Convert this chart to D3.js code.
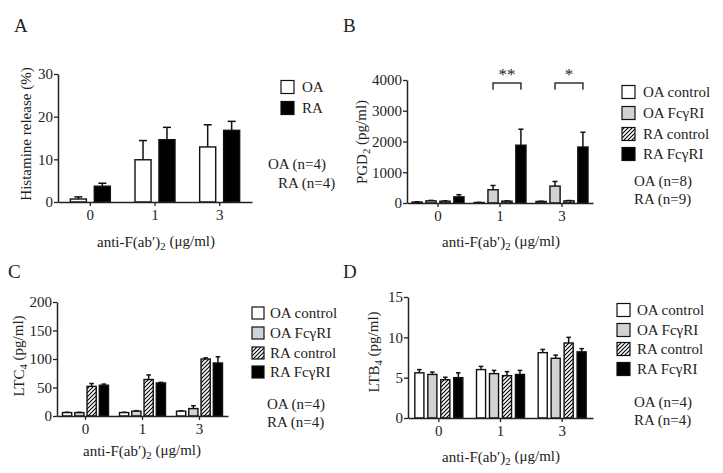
<!DOCTYPE html>
<html><head><meta charset="utf-8">
<script src="https://cdn.jsdelivr.net/npm/d3@7"></script>
<style>
body{margin:0;background:#fff}
text{font-family:"Liberation Serif","Times New Roman",serif;fill:#222}
</style>
</head><body>
<svg id="c" width="723" height="473"></svg>
<script>
// ---------- data ----------
const doses = ["0", "1", "3"];

// Panel A: histamine release (%)
const histNames = ["OA", "RA"];
const histOA = [0.7, 9.9, 12.9];
const histOAerr = [0.5, 4.5, 5.2];
const histRA = [3.7, 14.6, 16.8];
const histRAerr = [0.7, 2.9, 2.1];
const histTicks = [0, 10, 20, 30];

// Panel B: PGD2 (pg/ml)
const fourNames = ["OA control", "OA FcγRI", "RA control", "RA FcγRI"];
const pgdOActrl = [30, 15, 50];
const pgdOActrlErr = [8, 5, 8];
const pgdOAfc = [70, 430, 550];
const pgdOAfcErr = [15, 140, 150];
const pgdRActrl = [60, 60, 70];
const pgdRActrlErr = [10, 10, 10];
const pgdRAfc = [200, 1880, 1820];
const pgdRAfcErr = [70, 520, 480];
const pgdTicks = [0, 1000, 2000, 3000, 4000];
const pgdSigDoses = ["1", "3"];
const pgdSigLabels = ["**", "*"];

// Panel C: LTC4 (pg/ml)
const ltcOActrl = [6, 6, 8.5];
const ltcOActrlErr = [0.5, 0.5, 0.5];
const ltcOAfc = [6, 8.5, 13];
const ltcOAfcErr = [0.5, 0.8, 5];
const ltcRActrl = [52, 64, 100];
const ltcRActrlErr = [5, 8, 2];
const ltcRAfc = [54, 58, 93];
const ltcRAfcErr = [2, 1, 11];
const ltcTicks = [0, 50, 100, 150, 200];

// Panel D: LTB4 (pg/ml)
const ltbOActrl = [5.6, 6.0, 8.1];
const ltbOActrlErr = [0.4, 0.4, 0.4];
const ltbOAfc = [5.4, 5.5, 7.4];
const ltbOAfcErr = [0.3, 0.4, 0.4];
const ltbRActrl = [4.75, 5.25, 9.3];
const ltbRActrlErr = [0.3, 0.5, 0.7];
const ltbRAfc = [5.0, 5.4, 8.2];
const ltbRAfcErr = [0.6, 0.5, 0.4];
const ltbTicks = [0, 5, 10, 15];

// ---------- drawing ----------
const svg = d3.select("#c");
svg.append("rect").attr("width", 723).attr("height", 473).attr("fill", "#fff");

const defs = svg.append("defs");
const pat = defs.append("pattern").attr("id", "hatch")
  .attr("patternUnits", "userSpaceOnUse").attr("width", 4).attr("height", 4);
pat.append("rect").attr("width", 4).attr("height", 4).attr("fill", "#fff");
pat.append("path").attr("d", "M-1,1 l2,-2 M0,4 l4,-4 M3,5 l2,-2")
  .attr("stroke", "#000").attr("stroke-width", 1.1);

const fills = {"OA": "#fff", "RA": "#000",
  "OA control": "#fff", "OA FcγRI": "#d2d2d2", "RA control": "url(#hatch)", "RA FcγRI": "#000"};

function subText(sel, parts) {
  parts.forEach(([t, sub], i) => {
    const ts = sel.append("tspan").text(t);
    if (sub) ts.attr("font-size", "0.72em").attr("dy", "0.3em");
    else if (i > 0 && parts[i - 1][1]) ts.attr("dy", "-0.3em");
  });
}

function panel(o) {
  const g = svg.append("g");
  const x = d3.scaleBand().domain(doses).range([o.left, o.right]);
  const y = d3.scaleLinear().domain([0, o.ymax]).range([o.bottom, o.top]);
  const xi = d3.scaleBand().domain(o.series.map(s => s.name))
    .range([-o.half, o.half]).paddingInner(o.pad);
  const bw = xi.bandwidth();

  const rows = [];
  o.series.forEach(s => s.values.forEach((v, i) =>
    rows.push({name: s.name, dose: doses[i], v: v, e: s.errs[i]})));

  const cx = d => x(d.dose) + x.bandwidth() / 2 + xi(d.name) + bw / 2;

  g.selectAll(".eb").data(rows).join("line")
    .attr("x1", cx).attr("x2", cx)
    .attr("y1", d => y(d.v)).attr("y2", d => y(d.v + d.e))
    .attr("stroke", "#111").attr("stroke-width", 1.5);
  g.selectAll(".cap").data(rows).join("line")
    .attr("x1", d => cx(d) - bw * 0.25).attr("x2", d => cx(d) + bw * 0.25)
    .attr("y1", d => y(d.v + d.e)).attr("y2", d => y(d.v + d.e))
    .attr("stroke", "#111").attr("stroke-width", 1.5);

  g.selectAll(".bar").data(rows).join("rect")
    .attr("x", d => cx(d) - bw / 2).attr("width", bw)
    .attr("y", d => y(d.v)).attr("height", d => o.bottom - y(d.v))
    .attr("fill", d => fills[d.name]).attr("stroke", "#111").attr("stroke-width", 1.4);

  const ya = g.append("g").attr("transform", `translate(${o.left},0)`)
    .call(d3.axisLeft(y).tickValues(o.ticks).tickSize(4).tickSizeOuter(0).tickPadding(1).tickFormat(d3.format("d")));
  const xa = g.append("g").attr("transform", `translate(0,${o.bottom})`)
    .call(d3.axisBottom(x).tickSize(4).tickSizeOuter(0).tickPadding(3));
  [ya, xa].forEach(a => {
    a.select(".domain").attr("stroke", "#222").attr("stroke-width", 1.5);
    a.selectAll(".tick line").attr("stroke", "#222").attr("stroke-width", 1.3);
    a.selectAll("text").attr("font-family", "Liberation Serif").attr("font-size", 15).attr("fill", "#333");
  });

  const xt = g.append("text").attr("x", o.xtX).attr("y", o.xtY).attr("text-anchor", "middle")
    .attr("font-size", 15);
  subText(xt, [["anti-F(ab′)", false], ["2", true], [" (μg/ml)", false]]);

  const yt = g.append("text").attr("transform", `translate(${o.ytX},${o.ytY}) rotate(-90)`)
    .attr("text-anchor", "middle").attr("font-size", 15).attr("fill", "#333");
  subText(yt, o.ytParts);

  g.append("text").attr("x", o.letX).attr("y", o.letY).attr("font-size", 19).text(o.letter);

  o.series.forEach((s, i) => {
    g.append("rect").attr("x", o.legX).attr("y", o.legY[i] - o.box / 2)
      .attr("width", o.box).attr("height", o.box)
      .attr("fill", fills[s.name]).attr("stroke", "#111").attr("stroke-width", 1.2);
    g.append("text").attr("x", o.legX + o.box + o.legGap).attr("y", o.legY[i]).attr("dy", "0.35em")
      .attr("font-size", 15).text(s.name);
  });
  o.nText.forEach((t, i) => {
    g.append("text").attr("x", o.nX[i]).attr("y", o.nY[i]).attr("dy", "0.35em")
      .attr("font-size", 15).text(t);
  });

  return {g, x, y, xi, bw};
}

// Panel A
panel({
  left: 58, right: 252, top: 74, bottom: 202, ymax: 30, ticks: histTicks,
  half: 20, pad: 0.33,
  series: [{name: "OA", values: histOA, errs: histOAerr}, {name: "RA", values: histRA, errs: histRAerr}],
  xtX: 156, xtY: 247, ytX: 31, ytY: 134,
  ytParts: [["Histamine release (%)", false]],
  letter: "A", letX: 14, letY: 32,
  legX: 281, legY: [87, 108], box: 13, legGap: 8,
  nText: ["OA (n=4)", "RA (n=4)"], nX: [268, 278], nY: [164, 183]
});

// Panel B
const pB = panel({
  left: 407, right: 593, top: 80, bottom: 203, ymax: 4000, ticks: pgdTicks,
  half: 26, pad: 0.27,
  series: [
    {name: "OA control", values: pgdOActrl, errs: pgdOActrlErr},
    {name: "OA FcγRI", values: pgdOAfc, errs: pgdOAfcErr},
    {name: "RA control", values: pgdRActrl, errs: pgdRActrlErr},
    {name: "RA FcγRI", values: pgdRAfc, errs: pgdRAfcErr}],
  xtX: 501, xtY: 247, ytX: 367, ytY: 142,
  ytParts: [["PGD", false], ["2", true], [" (pg/ml)", false]],
  letter: "B", letX: 343, letY: 32,
  legX: 622, legY: [92, 113, 134, 154], box: 13, legGap: 8,
  nText: ["OA (n=8)", "RA (n=9)"], nX: [634, 634], nY: [181, 199]
});
pgdSigDoses.forEach((dose, i) => {
  const xc = pB.x(dose) + pB.x.bandwidth() / 2;
  const xa = xc + pB.xi("OA FcγRI") + pB.bw / 2;
  const xb = xc + pB.xi("RA FcγRI") + pB.bw / 2;
  const yt = pB.y(3900), yb = pB.y(3680);
  pB.g.append("path").attr("d", `M${xa},${yb}V${yt}H${xb}V${yb}`)
    .attr("fill", "none").attr("stroke", "#333").attr("stroke-width", 1.5);
  pB.g.append("text").attr("x", (xa + xb) / 2).attr("y", yt - 3).attr("text-anchor", "middle")
    .attr("font-size", 17).attr("fill", "#444").text(pgdSigLabels[i]);
});

// Panel C
panel({
  left: 57, right: 228, top: 302, bottom: 416, ymax: 200, ticks: ltcTicks,
  half: 23, pad: 0.25,
  series: [
    {name: "OA control", values: ltcOActrl, errs: ltcOActrlErr},
    {name: "OA FcγRI", values: ltcOAfc, errs: ltcOAfcErr},
    {name: "RA control", values: ltcRActrl, errs: ltcRActrlErr},
    {name: "RA FcγRI", values: ltcRAfc, errs: ltcRAfcErr}],
  xtX: 142, xtY: 456, ytX: 24, ytY: 356,
  ytParts: [["LTC", false], ["4", true], [" (pg/ml)", false]],
  letter: "C", letX: 8, letY: 278,
  legX: 252, legY: [313, 333, 353, 372], box: 12, legGap: 6,
  nText: ["OA (n=4)", "RA (n=4)"], nX: [267, 267], nY: [404, 422]
});

// Panel D
panel({
  left: 408, right: 593, top: 297, bottom: 418, ymax: 15, ticks: ltbTicks,
  half: 24, pad: 0.3,
  series: [
    {name: "OA control", values: ltbOActrl, errs: ltbOActrlErr},
    {name: "OA FcγRI", values: ltbOAfc, errs: ltbOAfcErr},
    {name: "RA control", values: ltbRActrl, errs: ltbRActrlErr},
    {name: "RA FcγRI", values: ltbRAfc, errs: ltbRAfcErr}],
  xtX: 501, xtY: 462, ytX: 379, ytY: 352,
  ytParts: [["LTB", false], ["4", true], [" (pg/ml)", false]],
  letter: "D", letX: 343, letY: 278,
  legX: 617, legY: [310, 330, 349, 369], box: 13, legGap: 7,
  nText: ["OA (n=4)", "RA (n=4)"], nX: [634, 634], nY: [402, 420]
});
</script>
</body></html>
